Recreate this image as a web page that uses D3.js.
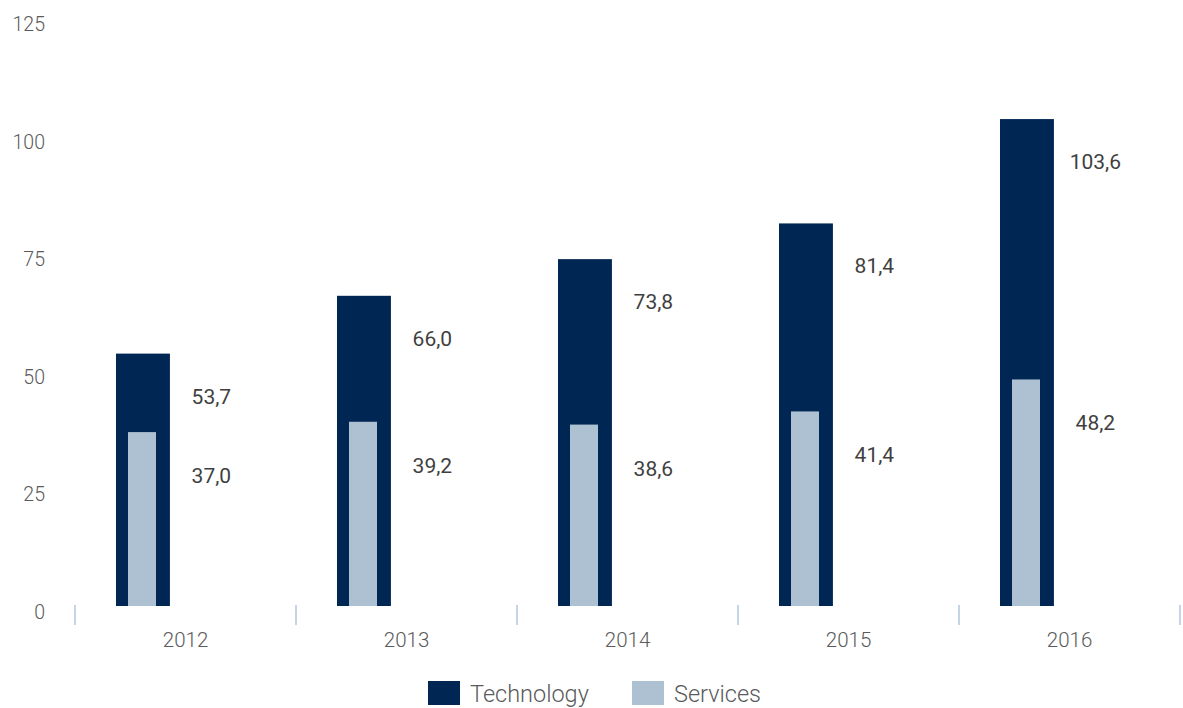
<!DOCTYPE html>
<html>
<head>
<meta charset="utf-8">
<script src="https://cdn.jsdelivr.net/npm/d3@7"></script>
<style>
  body { margin: 0; background: #fff; }
  svg text { font-family: Roboto, "Noto Sans", sans-serif; }
</style>
</head>
<body>
<div id="chart"></div>
<script>
const years = ["2012", "2013", "2014", "2015", "2016"];
const technology = [53.7, 66.0, 73.8, 81.4, 103.6];
const services = [37.0, 39.2, 38.6, 41.4, 48.2];
const yTicks = [0, 25, 50, 75, 100, 125];
const seriesNames = ["Technology", "Services"];
const colors = ["#002654", "#adc1d2"];

const W = 1183, H = 708;
const svg = d3.select("#chart").append("svg")
  .attr("width", W)
  .attr("height", H);

const x = d3.scaleBand().domain(years).range([75, 1180]);
const y = d3.scaleLinear().domain([0, 125]).range([606, 18.5]);
const bw = x.bandwidth();

const fmt = d3.formatLocale({ decimal: ",", thousands: " ", grouping: [3], currency: ["", ""] }).format(".1f");

// Y axis labels only
const yAxis = svg.append("g")
  .attr("transform", "translate(45,0)")
  .call(d3.axisLeft(y).tickValues(yTicks).tickSize(0).tickPadding(0));
yAxis.select(".domain").remove();
yAxis.selectAll("text")
  .attr("dy", "0.62em")
  .style("font-size", "19.5px")
  .style("font-weight", 300)
  .attr("fill", "#5a5a5a");

// X axis labels
const xAxis = svg.append("g")
  .attr("transform", `translate(0,${y(0)})`)
  .call(d3.axisBottom(x).tickSize(0).tickPadding(26));
xAxis.select(".domain").remove();
xAxis.selectAll("text")
  .style("font-size", "20.5px")
  .style("font-weight", 300)
  .attr("fill", "#5a5a5a");

// tick marks at band edges
const edges = years.map(d => x(d)).concat([x.range()[1]]);
svg.append("g").selectAll("line")
  .data(edges)
  .join("line")
  .attr("x1", d => d).attr("x2", d => d)
  .attr("y1", y(0) - 1).attr("y2", y(0) + 19)
  .attr("stroke", "#c6d5e6")
  .attr("stroke-width", 2);

// Technology bars
svg.append("g").selectAll("rect")
  .data(years)
  .join("rect")
  .attr("x", d => x(d) + bw * 0.1855)
  .attr("width", bw * 0.244)
  .attr("y", (d, i) => y(technology[i]))
  .attr("height", (d, i) => y(0) - y(technology[i]))
  .attr("fill", colors[0]);

// Services bars
svg.append("g").selectAll("rect")
  .data(years)
  .join("rect")
  .attr("x", d => x(d) + bw * 0.2398)
  .attr("width", bw * 0.1267)
  .attr("y", (d, i) => y(services[i]))
  .attr("height", (d, i) => y(0) - y(services[i]))
  .attr("fill", colors[1]);

// value labels
const labels = svg.append("g")
  .attr("text-anchor", "middle")
  .style("font-size", "21px")
  .style("font-weight", 400)
  .attr("fill", "#3f3f3f");

labels.selectAll(".tech")
  .data(years)
  .join("text")
  .attr("class", "tech")
  .attr("x", d => x(d) + bw * 0.617)
  .attr("y", (d, i) => y(technology[i]) + 50)
  .text((d, i) => fmt(technology[i]));

labels.selectAll(".serv")
  .data(years)
  .join("text")
  .attr("class", "serv")
  .attr("x", d => x(d) + bw * 0.617)
  .attr("y", (d, i) => y(services[i]) + 51)
  .text((d, i) => fmt(services[i]));

// legend
const legendX = [428, 632];
const legend = svg.append("g").selectAll("g")
  .data(seriesNames)
  .join("g")
  .attr("transform", (d, i) => `translate(${legendX[i]},681)`);

legend.append("rect")
  .attr("width", 32)
  .attr("height", 24)
  .attr("fill", (d, i) => colors[i]);

legend.append("text")
  .attr("x", 42)
  .attr("y", 21)
  .style("font-size", "23.5px")
  .style("font-weight", 300)
  .attr("fill", "#5a5a5a")
  .text(d => d);
</script>
</body>
</html>
